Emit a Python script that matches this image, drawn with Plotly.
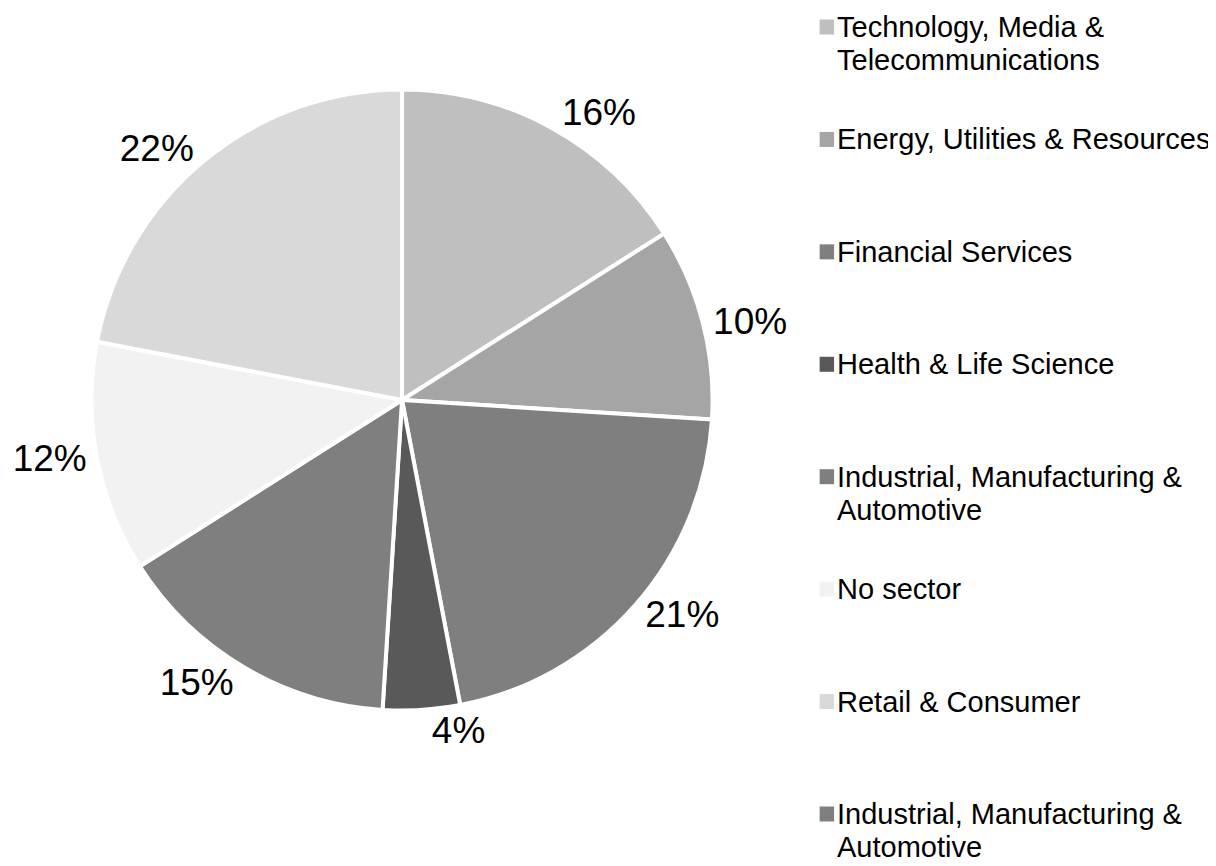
import plotly.graph_objects as go

# sectors, in slice / legend order (last entry has no share in the pie)
sectors = [
    "Technology, Media &<br>Telecommunications",
    "Energy, Utilities & Resources",
    "Financial Services",
    "Health & Life Science",
    "Industrial, Manufacturing &<br>Automotive",
    "No sector",
    "Retail & Consumer",
    "Industrial, Manufacturing &<br>Automotive ",
]
shares = [16, 10, 21, 4, 15, 12, 22, 0]
share_labels = ["16%", "10%", "21%", "4%", "15%", "12%", "22%", ""]
colors = ["#bfbfbf", "#a5a5a5", "#7f7f7f", "#595959",
          "#7f7f7f", "#f2f2f2", "#d9d9d9", "#7f7f7f"]

# page body has an 8px margin, so the figure starts 8px in from the corner
OFF = 8
W, H = 1216 - OFF, 866 - OFF
FONT = "Arial"


def px(x):
    return (x - OFF) / W


def py(y):
    return 1 - (y - OFF) / H


fig = go.Figure()

cx, cy, r = 372, 400, 322
fig.add_trace(go.Pie(
    labels=sectors,
    values=shares,
    text=share_labels,
    texttemplate="%{text}",
    textposition="outside",
    textfont=dict(size=37, color="black", family=FONT),
    marker=dict(colors=colors, line=dict(color="white", width=4)),
    sort=False,
    direction="clockwise",
    rotation=0,
    showlegend=False,
    hoverinfo="label+percent",
    domain=dict(x=[px(cx - r), px(cx + r)], y=[py(cy + r), py(cy - r)]),
))

# legend drawn by hand: even pitch, marker beside the first line
leg_fs = 29
first_y, last_y, line_gap = 27, 814, 33
pitch = (last_y - first_y) / (len(sectors) - 1)
annotations = []
shapes = []
for i, (name, col) in enumerate(zip(sectors, colors)):
    yc = first_y + i * pitch
    shapes.append(dict(
        type="rect", xref="paper", yref="paper",
        x0=px(805), x1=px(820),
        y0=py(yc - 7.5), y1=py(yc + 7.5),
        fillcolor=col, line=dict(width=0),
    ))
    for k, line in enumerate(name.strip().split("<br>")):
        annotations.append(dict(
            text=line, xref="paper", yref="paper",
            x=px(822), y=py(yc + k * line_gap),
            xanchor="left", yanchor="middle", align="left",
            showarrow=False, borderpad=0,
            font=dict(size=leg_fs, color="black", family=FONT),
        ))

fig.update_layout(
    width=W,
    height=H,
    plot_bgcolor="white",
    paper_bgcolor="white",
    margin=dict(l=0, r=0, t=0, b=0),
    annotations=annotations,
    shapes=shapes,
    showlegend=False,
)

fig.write_html("out.html")
